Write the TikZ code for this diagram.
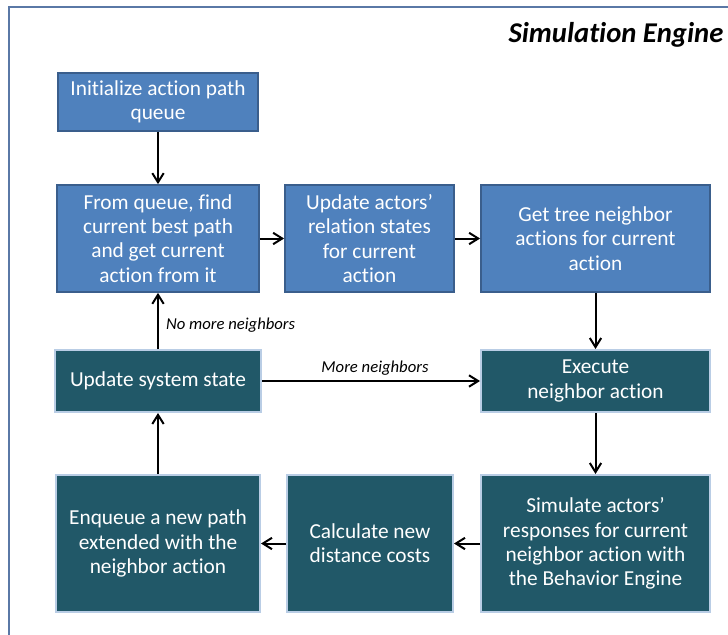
\documentclass[tikz,border=0pt]{standalone}
\usepackage{fontspec}
\setmainfont{Carlito}[Ligatures=NoCommon]
\usetikzlibrary{arrows.meta}
\definecolor{boxblue}{HTML}{4F81BD}
\definecolor{edgeblue}{HTML}{3A5E8C}
\definecolor{boxteal}{HTML}{215868}
\definecolor{edgepale}{HTML}{B9CDE5}
\definecolor{framecol}{HTML}{5A78A6}

\begin{document}
\begin{tikzpicture}[x=0.75pt,y=-0.75pt,>={Straight Barb[length=2.4mm,width=3mm]},
  lightbox/.style={draw=edgeblue,line width=1.3pt,fill=boxblue,text=white,
    align=center,inner sep=0pt,font=\fontsize{16}{18.2}\selectfont},
  darkbox/.style={draw=edgepale,line width=1.5pt,fill=boxteal,text=white,
    align=center,inner sep=0pt,font=\fontsize{16}{18.2}\selectfont},
  flow/.style={->,line width=1.5pt},
  tag/.style={font=\itshape\fontsize{12.5}{14}\selectfont}]
  \useasboundingbox (0,0) rectangle (728,635);
  \clip (0,0) rectangle (728,635);
  % outer frame, runs off the page
  \draw[framecol,line width=1pt] (9,700) |- (800,7);
  \node[anchor=east,font=\bfseries\itshape\fontsize{21.5}{24}\selectfont] (title) at (728,35) {Simulation Engine};

  % top row
  \node[lightbox,minimum width=150pt,minimum height=43.5pt] (init) at (158,102) {Initialize action path\\queue};
  \node[lightbox,minimum width=151.5pt,minimum height=80.25pt] (find) at (158,238.5) {From queue, find\\current best path\\and get current\\action from it};
  \node[lightbox,minimum width=126.75pt,minimum height=80.25pt] (upd) at (369.5,238.5) {Update actors’\\relation states\\for current\\action};
  \node[lightbox,minimum width=171.75pt,minimum height=80.25pt] (get) at (595.5,238.5) {Get tree neighbor\\actions for current\\action};

  % middle row
  \node[darkbox,minimum width=154.5pt,minimum height=46.5pt] (sys) at (158,381) {Update system state};
  \node[darkbox,minimum width=171.75pt,minimum height=46.5pt] (exec) at (595.5,381) {Execute\\neighbor action};

  % bottom row
  \node[darkbox,minimum width=171.75pt,minimum height=102.75pt] (sim) at (595.5,543.5) {Simulate actors’\\responses for current\\neighbor action with\\the Behavior Engine};
  \node[darkbox,minimum width=124.5pt,minimum height=102.75pt] (calc) at (370,543.5) {Calculate new\\distance costs};
  \node[darkbox,minimum width=153pt,minimum height=102.75pt] (enq) at (158,543.5) {Enqueue a new path\\extended with the\\neighbor action};

  \draw[flow] (init) -- (find);
  \draw[flow] (find) -- (upd);
  \draw[flow] (upd) -- (get);
  \draw[flow] (get) -- (exec);
  \draw[flow] (exec) -- (sim);
  \draw[flow] (sim) -- (calc);
  \draw[flow] (calc) -- (enq);
  \draw[flow] (enq) -- (sys);
  \draw[flow] (sys) -- node[tag,right,xshift=2pt,yshift=-3pt] {No more neighbors} (find);
  \draw[flow] (sys) -- node[tag,above,xshift=3pt] {More neighbors} (exec);
\end{tikzpicture}
\end{document}
